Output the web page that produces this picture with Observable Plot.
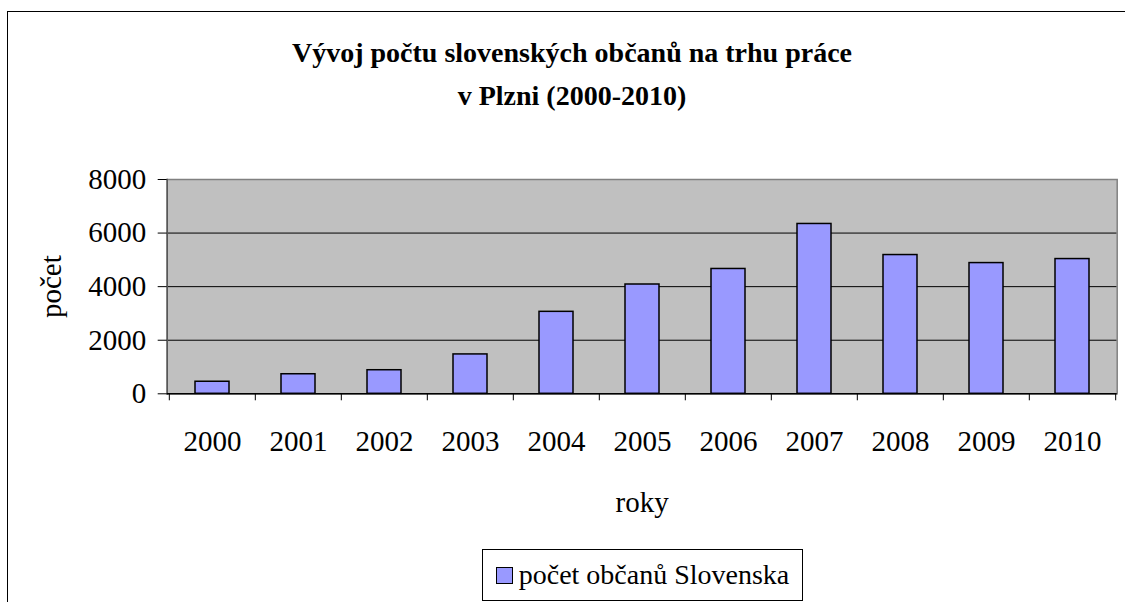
<!DOCTYPE html>
<html>
<head>
<meta charset="utf-8">
<script src="https://cdn.jsdelivr.net/npm/d3@7"></script>
<script src="https://cdn.jsdelivr.net/npm/@observablehq/plot@0.6"></script>
<style>
  html, body { margin: 0; padding: 0; background: #fff; width: 1125px; height: 602px; overflow: hidden; }
  body { position: relative; font-family: 'Liberation Serif', serif; color: #000; }
  #box { position: absolute; left: 7px; top: 11px; width: 1130px; height: 640px; border: 1px solid #000; box-sizing: border-box; }
  #title { position: absolute; left: 7px; width: 1130px; top: 31px; text-align: center; font-family: 'Liberation Serif', serif; font-weight: bold; font-size: 28px; line-height: 43px; }
  #chart { position: absolute; left: 0; top: 150px; }
  #chart svg text { font-family: 'Liberation Serif', serif; }
  #legend { position: absolute; left: 482px; top: 549px; width: 321px; height: 52px; border: 1px solid #000; box-sizing: border-box; background: #fff;
            display: flex; align-items: center; justify-content: center; font-family: 'Liberation Serif', serif; font-size: 28px; }
  #legend .sw { display: inline-block; width: 15px; height: 15px; background: #9999ff; border: 1.5px solid #000; margin-right: 6px; }
</style>
</head>
<body>
<div id="box"></div>
<div id="title">Vývoj počtu slovenských občanů na trhu práce<br>v Plzni (2000-2010)</div>
<div id="chart"></div>
<div id="legend"><span class="sw"></span><span id="legtext"></span></div>
<script>
const years = ["2000","2001","2002","2003","2004","2005","2006","2007","2008","2009","2010"];
const counts = [450, 730, 880, 1470, 3060, 4080, 4660, 6340, 5180, 4880, 5030];
const yTicks = [0, 2000, 4000, 6000, 8000];
const gridTicks = [2000, 4000, 6000];
const seriesName = "počet občanů Slovenska";
const xLabel = "roky";
const yLabel = "počet";

const data = years.map((y, i) => ({year: y, value: counts[i]}));

const W = 1125, H = 380;
const mL = 166.7, mR = 8.3, mT = 29, mB = 136.7;
const step = (W - mL - mR) / years.length;

const chart = Plot.plot({
  width: W, height: H,
  marginLeft: mL, marginRight: mR, marginTop: mT, marginBottom: mB,
  style: {fontFamily: "'Liberation Serif', serif", fontSize: "29px", color: "#000", background: "transparent"},
  x: {domain: years, paddingInner: 0.6, paddingOuter: 0.3, axis: null},
  y: {domain: [0, 8000], axis: null},
  marks: [
    Plot.frame({fill: "#c0c0c0", stroke: null}),
    Plot.gridY(gridTicks, {stroke: "#000", strokeOpacity: 1, strokeWidth: 1}),
    Plot.frame({stroke: "#808080", strokeWidth: 1.5}),
    Plot.frame({anchor: "left", stroke: "#555", strokeWidth: 1.5}),
    Plot.barY(data, {x: "year", y: "value", fill: "#9999ff", stroke: "#000", strokeWidth: 1.5}),
    Plot.ruleY([0], {stroke: "#000", strokeWidth: 1.5}),
    Plot.axisY({ticks: yTicks, tickSize: 9, tickPadding: 12, fontSize: 29, tickFormat: d => String(d), stroke: "#000",
                label: yLabel, labelAnchor: "center", labelOffset: 127, labelArrow: "none"}),
    Plot.axisX({ticks: years, tickSize: 7, tickFormat: () => "", dx: -step / 2, label: null, stroke: "#000"}),
    Plot.axisX({ticks: [years[years.length - 1]], tickSize: 7, tickFormat: () => "", dx: step / 2, label: null, stroke: "#000"}),
    Plot.axisX({ticks: years, tickSize: 0, tickPadding: 37, fontSize: 29,
                label: xLabel, labelAnchor: "center", labelOffset: 118, labelArrow: "none"})
  ]
});
document.getElementById("chart").appendChild(chart);
document.getElementById("legtext").textContent = seriesName;
</script>
</body>
</html>
